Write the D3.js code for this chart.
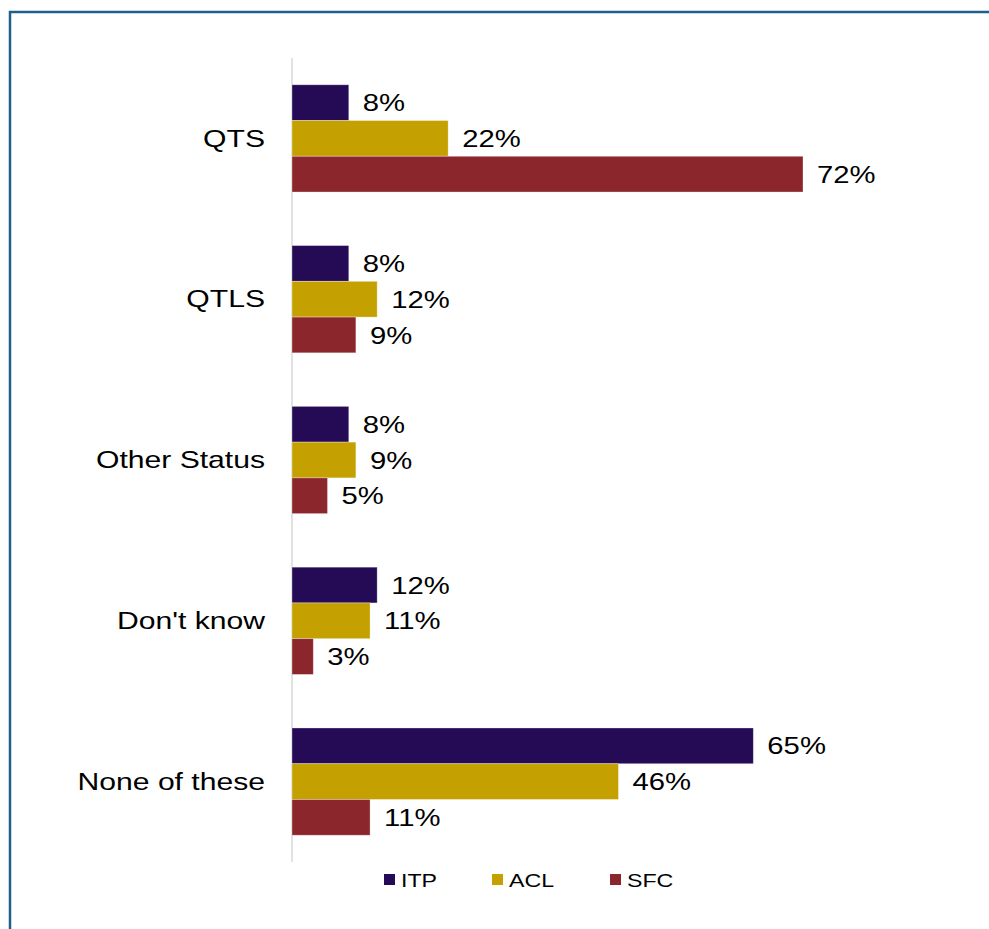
<!DOCTYPE html>
<html><head><meta charset="utf-8">
<script src="https://cdn.jsdelivr.net/npm/d3@7"></script>
<style>body{margin:0;background:#fff}svg{display:block}</style>
</head><body>
<svg id="c" width="989" height="929"></svg>
<script>
const categories = ["QTS","QTLS","Other Status","Don't know","None of these"];
const seriesNames = ["ITP","ACL","SFC"];
const itp = [8,8,8,12,65];
const acl = [22,12,9,11,46];
const sfc = [72,9,5,3,11];
const colors = ["#250a56","#c4a100","#8a262c"];
const series = [itp, acl, sfc];

const FONT = "Liberation Sans, Arial, sans-serif";

const svg = d3.select("#c");
// frame
svg.append("path").attr("d","M10,929 V12 H989").attr("fill","none").attr("stroke","#1f5f8e").attr("stroke-width",2.5);

const x0 = 292;
const x = d3.scaleLinear().domain([0,72]).range([x0,803]);
const y = d3.scaleBand().domain(categories).range([58,862]).paddingInner(0.333).paddingOuter(0.1665);
const yi = d3.scaleBand().domain(seriesNames).range([0,y.bandwidth()]);

svg.append("line").attr("x1",x0).attr("x2",x0).attr("y1",58).attr("y2",862).attr("stroke","#d9d9d9").attr("stroke-width",1.5);

function stext(px, py, txt, size, anchor, dy, sx){
  return svg.append("text")
    .attr("transform",`translate(${px},${py}) scale(${sx},1)`)
    .attr("dy",dy).attr("text-anchor",anchor)
    .attr("font-family",FONT).attr("font-size",size).attr("fill","#000").text(txt);
}

const g = svg.append("g");
categories.forEach((c,ci)=>{
  series.forEach((s,si)=>{
    const by = y(c)+yi(seriesNames[si]);
    g.append("rect").attr("x",x(0)).attr("y",by).attr("width",x(s[ci])-x(0)).attr("height",yi.bandwidth())
      .attr("fill",colors[si]).attr("stroke","#ffffff").attr("stroke-opacity",0.4).attr("stroke-width",0.8);
    stext(x(s[ci])+14, by+yi.bandwidth()/2, s[ci]+"%", 24, "start", "0.36em", 1.22);
  });
  stext(265, y(c)+y.bandwidth()/2, c, 24, "end", "0.34em", 1.255);
});

// legend
const legX = [384,492,610];
seriesNames.forEach((n,i)=>{
  svg.append("rect").attr("x",legX[i]).attr("y",874).attr("width",11).attr("height",11).attr("fill",colors[i]);
  stext(legX[i]+17, 880, n, 19, "start", "0.36em", 1.22);
});
</script>
</body></html>
